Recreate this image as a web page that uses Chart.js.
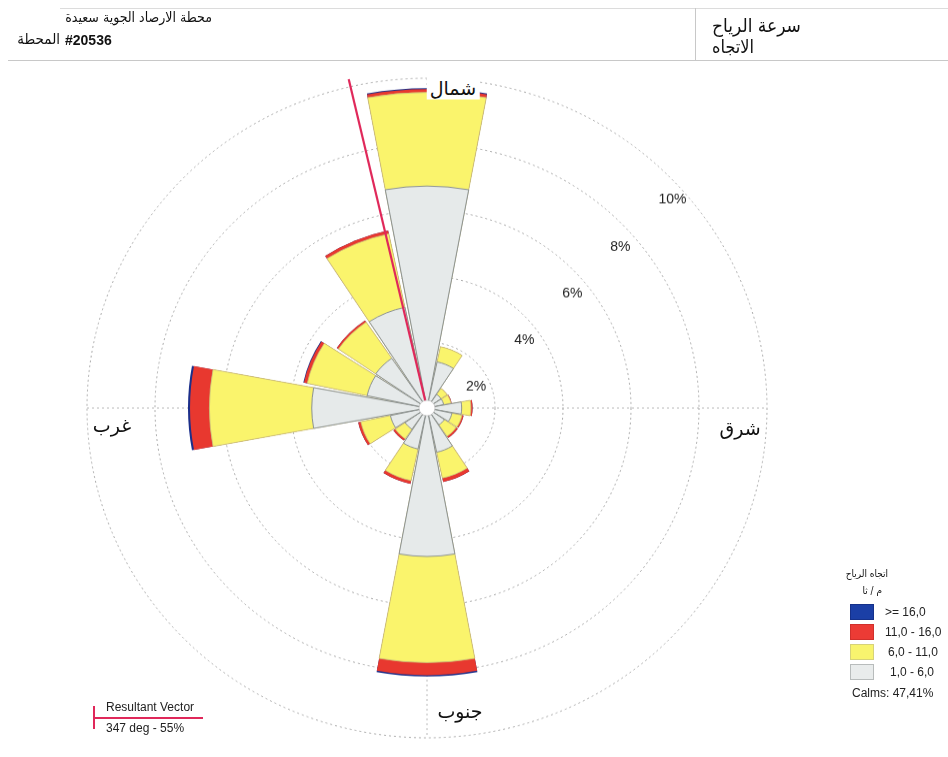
<!DOCTYPE html>
<html>
<head>
<meta charset="utf-8">
<script src="https://cdn.jsdelivr.net/npm/chart.js@4.4.1/dist/chart.umd.min.js"></script>
<style>
html,body{margin:0;padding:0;background:#fff;width:948px;height:757px;overflow:hidden;
  font-family:"Liberation Sans","DejaVu Sans",Arial,sans-serif;color:#111;}
#wrap{position:absolute;left:0;top:0;width:948px;height:757px;transform:scaleY(0.97);transform-origin:0 408px;}
.t{position:absolute;white-space:nowrap;line-height:1;}
.ar{font-family:"DejaVu Sans Condensed","DejaVu Sans",sans-serif;}
.c{transform:translate(-50%,-50%);}
.hl{position:absolute;background:#c8c8c8;}
.box{position:absolute;left:850px;width:24px;height:16px;box-sizing:border-box;}
.lg{position:absolute;font-size:12px;line-height:1;white-space:nowrap;color:#222;}
</style>
</head>
<body>
<div id="wrap"><canvas id="c"></canvas></div>

<!-- header -->
<div class="hl" style="left:60px;top:8px;width:888px;height:1px;background:#dcdcdc"></div>
<div class="hl" style="left:8px;top:60px;width:940px;height:1px;"></div>
<div class="hl" style="left:695px;top:8px;width:1px;height:52px;"></div>
<div class="t ar" dir="rtl" style="right:736px;top:10px;font-size:14px;">محطة الارصاد الجوية سعيدة</div>
<div class="t ar" dir="rtl" style="right:888px;top:32px;font-size:15px;">المحطة</div>
<div class="t" dir="ltr" style="left:65px;top:33px;font-size:14px;font-weight:bold;">#20536</div>
<div class="t ar" dir="rtl" style="left:712px;top:16px;font-size:19px;">سرعة الرياح</div>
<div class="t ar" dir="rtl" style="left:712px;top:38px;font-size:18px;">الاتجاه</div>

<!-- compass labels -->
<div class="t c" dir="rtl" style="left:453px;top:88px;font-size:19px;background:#fff;padding:2px 3px;">شمال</div>
<div class="t c" dir="rtl" style="left:112px;top:425px;font-size:19px;">غرب</div>
<div class="t c" dir="rtl" style="left:740px;top:428px;font-size:19px;">شرق</div>
<div class="t c" dir="rtl" style="left:460px;top:711px;font-size:19px;">جنوب</div>

<!-- legend -->
<div class="t ar" dir="rtl" style="right:60px;top:569px;font-size:10px;">اتجاه الرياح</div>
<div class="t ar" dir="rtl" style="right:66px;top:586px;font-size:10px;">م / ثا</div>
<div class="box" style="top:604px;background:#1b3fa6;border:1px solid #15318a"></div>
<div class="box" style="top:624px;background:#ec3b35;border:1px solid #d0302c"></div>
<div class="box" style="top:644px;background:#f8f46e;border:1px solid #d6d27a"></div>
<div class="box" style="top:664px;background:#e9ecec;border:1px solid #b8bcbc"></div>
<div class="lg" dir="ltr" style="left:885px;top:606px;" id="l0"></div>
<div class="lg" dir="ltr" style="left:885px;top:626px;" id="l1"></div>
<div class="lg" dir="ltr" style="left:888px;top:646px;" id="l2"></div>
<div class="lg" dir="ltr" style="left:890px;top:666px;" id="l3"></div>
<div class="lg" dir="ltr" style="left:852px;top:687px;" id="calm"></div>

<!-- resultant vector legend -->
<div class="hl" style="left:93px;top:706px;width:2px;height:23px;background:#e0285a"></div>
<div class="hl" style="left:93px;top:717px;width:110px;height:2px;background:#e0285a"></div>
<div class="lg" dir="ltr" style="left:106px;top:701px;">Resultant Vector</div>
<div class="lg" dir="ltr" style="left:106px;top:722px;" id="rv"></div>

<script>
// ---------------- data (percent of observations) ----------------
const DIRECTIONS = ['N','NNE','NE','ENE','E','ESE','SE','SSE','S','SSW','SW','WSW','W','WNW','NW','NNW'];
const speed1to6   = [6.73, 1.43, 0.50, 0.50, 1.02, 0.75, 0.62, 1.37, 4.50, 1.27, 0.78, 1.10, 3.39, 1.80, 1.83, 3.12];
const speed6to11  = [2.84, 0.47, 0.22, 0.22, 0.27, 0.30, 0.42, 0.80, 3.22, 0.98, 0.35, 0.89, 3.01, 1.80, 1.33, 2.28];
const speed11to16 = [0.10, 0.00, 0.00, 0.02, 0.05, 0.05, 0.06, 0.12, 0.38, 0.10, 0.07, 0.08, 0.57, 0.10, 0.06, 0.10];
const speed16plus = [0.03, 0.00, 0.00, 0.00, 0.00, 0.00, 0.00, 0.00, 0.04, 0.00, 0.00, 0.00, 0.06, 0.02, 0.00, 0.00];
const SPEED_BINS  = ['>= 16,0', '11,0 - 16,0', '6,0 - 11,0', '1,0 -  6,0'];
const RING_TICKS  = [2, 4, 6, 8, 10];
const CALMS = '47,41%';
const RESULTANT_DEG = 347;
const RESULTANT_PCT = 55;

// ---------------- text from data ----------------
['l0','l1','l2','l3'].forEach((id,i)=>{ document.getElementById(id).textContent = SPEED_BINS[i]; });
document.getElementById('calm').textContent = 'Calms: ' + CALMS;
document.getElementById('rv').textContent = RESULTANT_DEG + ' deg - ' + RESULTANT_PCT + '%';

// ---------------- build stacked (cumulative) layers ----------------
const WEDGE = 21, GAP = 1.5;
const layers = [speed1to6, speed6to11, speed11to16, speed16plus];
const cumulative = [];
let run = DIRECTIONS.map(()=>0);
layers.forEach(l => { run = run.map((v,i)=> +(v + l[i]).toFixed(3)); cumulative.push(run); });
const interleave = arr => arr.flatMap(v => [v, 0]);
const labels = DIRECTIONS.flatMap(d => [d, '']);

const fills   = ['#e6eaea', '#faf46c', '#e8382f', '#1c2f8a'];
const borders = ['#8d9393', '#c9c47c', '#c4302a', '#1c2f8a'];
const bwidth  = [1, 0.8, 0, 0];

const datasets = cumulative.map((vals, k) => ({
  label: SPEED_BINS[3-k],
  data: interleave(vals),
  backgroundColor: fills[k],
  borderColor: borders[k],
  borderWidth: ctx => ctx.dataIndex % 2 === 0 ? bwidth[k] : 0,
  angle: ctx => ctx.dataIndex % 2 === 0 ? WEDGE : GAP
}));

const overlay = {
  id: 'overlay',
  beforeDatasetsDraw(chart) {
    const s = chart.scales.r, ctx = chart.ctx;
    const R = s.getDistanceFromCenterForValue(s.max);
    ctx.save();
    ctx.strokeStyle = '#b8b8b8'; ctx.lineWidth = 1; ctx.setLineDash([2,3]);
    ctx.beginPath();
    ctx.moveTo(s.xCenter - R, s.yCenter); ctx.lineTo(s.xCenter + R, s.yCenter);
    ctx.moveTo(s.xCenter, s.yCenter - R); ctx.lineTo(s.xCenter, s.yCenter + R);
    ctx.stroke();
    ctx.restore();
  },
  afterDatasetsDraw(chart) {
    const s = chart.scales.r, ctx = chart.ctx;
    const xc = s.xCenter, yc = s.yCenter;
    const R = s.getDistanceFromCenterForValue(s.max);
    ctx.save();
    // resultant vector
    const a = RESULTANT_DEG * Math.PI / 180;
    const L = R + 8;
    ctx.strokeStyle = '#e0285a'; ctx.lineWidth = 2.2; ctx.setLineDash([]);
    ctx.beginPath();
    ctx.moveTo(xc, yc);
    ctx.lineTo(xc + L * Math.sin(a), yc - L * Math.cos(a));
    ctx.stroke();
    // centre hole
    ctx.beginPath();
    ctx.arc(xc, yc, 8, 0, Math.PI * 2);
    ctx.fillStyle = '#fff'; ctx.fill();
    ctx.strokeStyle = '#b0b0b0'; ctx.lineWidth = 0.6; ctx.stroke();
    // ring labels
    ctx.font = '14px "Liberation Sans", Arial, sans-serif';
    ctx.fillStyle = '#222'; ctx.textAlign = 'left'; ctx.textBaseline = 'middle';
    RING_TICKS.forEach(v => {
      const r = s.getDistanceFromCenterForValue(v);
      const d = 0.7071 * r - 26;
      ctx.fillText(v + '%', xc + d + 17, yc - d);
    });
    ctx.restore();
  }
};

new Chart(document.getElementById('c'), {
  type: 'polarArea',
  data: { labels, datasets },
  options: {
    responsive: true,
    maintainAspectRatio: false,
    animation: false,
    layout: { padding: { left: 87, right: 181, top: 68, bottom: 9 } },
    plugins: { legend: { display: false }, tooltip: { enabled: false } },
    scales: {
      r: {
        min: 0, max: 10,
        startAngle: -WEDGE / 2,
        ticks: { display: false, stepSize: 2 },
        grid: { circular: true, color: '#a9a9a9', lineWidth: 1 },
        border: { dash: [2, 3] },
        angleLines: { display: false },
        pointLabels: { display: false }
      }
    }
  },
  plugins: [overlay]
});
</script>
</body>
</html>
